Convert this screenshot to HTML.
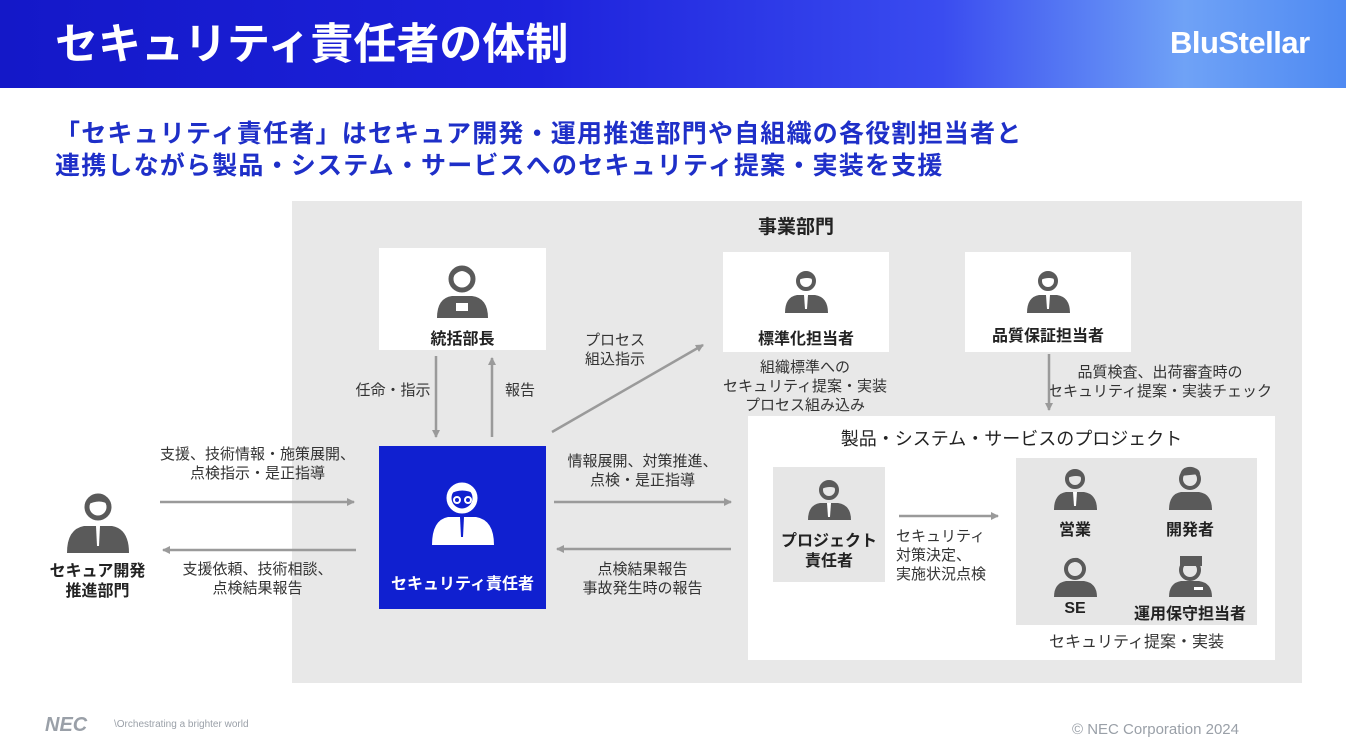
<!DOCTYPE html>
<html><head><meta charset="utf-8">
<style>
*{margin:0;padding:0;box-sizing:border-box}
body{width:1346px;height:755px;background:#fff;position:relative;overflow:hidden;font-family:"Liberation Sans","Noto Sans CJK JP",sans-serif;color:#333}
.a{position:absolute}
.hdr{left:0;top:0;width:1346px;height:88px;background:linear-gradient(90deg,#1418c8 0%,#1d22dc 40%,#3a4cf0 70%,#6fa2f6 88%,#4f8af2 100%)}
.t{font-size:15px;line-height:19px;text-align:center;color:#333;white-space:nowrap}
.b{font-weight:bold;font-size:16px;color:#222;white-space:nowrap}
.box{background:#fff}
</style></head><body>
<div class="a hdr"></div>
<div class="a" style="left:55px;top:18px;font-size:43px;font-weight:bold;color:#fff;letter-spacing:0px;line-height:54px;white-space:nowrap">セキュリティ責任者の体制</div>
<div class="a" style="left:1170px;top:25px;font-size:31px;font-weight:bold;color:#fff;letter-spacing:-0.5px">BluStellar</div>
<div class="a" style="left:55px;top:118px;font-size:25px;font-weight:bold;color:#1e2fc8;line-height:32px;letter-spacing:1.2px;white-space:nowrap">「セキュリティ責任者」はセキュア開発・運用推進部門や自組織の各役割担当者と<br>連携しながら製品・システム・サービスへのセキュリティ提案・実装を支援</div>

<div class="a" style="left:292px;top:201px;width:1010px;height:482px;background:#e8e8e8"></div>
<div class="a b" style="left:700px;top:212px;width:192px;text-align:center;font-size:19px">事業部門</div>

<div class="a box" style="left:379px;top:248px;width:167px;height:102px"></div>
<div class="a b" style="left:379px;top:325px;width:167px;text-align:center">統括部長</div>
<div class="a box" style="left:723px;top:252px;width:166px;height:100px"></div>
<div class="a b" style="left:723px;top:325px;width:166px;text-align:center">標準化担当者</div>
<div class="a box" style="left:965px;top:252px;width:166px;height:100px"></div>
<div class="a b" style="left:965px;top:322px;width:166px;text-align:center">品質保証担当者</div>

<div class="a" style="left:379px;top:446px;width:167px;height:163px;background:#1020d0"></div>
<div class="a b" style="left:379px;top:570px;width:167px;text-align:center;color:#fff">セキュリティ責任者</div>

<div class="a box" style="left:748px;top:416px;width:527px;height:244px"></div>
<div class="a" style="left:748px;top:425px;width:527px;text-align:center;font-size:18px;color:#222">製品・システム・サービスのプロジェクト</div>
<div class="a" style="left:773px;top:467px;width:112px;height:115px;background:#e6e6e6"></div>
<div class="a b" style="left:773px;top:532px;width:112px;text-align:center;line-height:20px">プロジェクト<br>責任者</div>
<div class="a" style="left:1016px;top:458px;width:241px;height:167px;background:#e6e6e6"></div>
<div class="a b" style="left:1040px;top:516px;width:70px;text-align:center">営業</div>
<div class="a b" style="left:1150px;top:516px;width:80px;text-align:center">開発者</div>
<div class="a b" style="left:1040px;top:600px;width:70px;text-align:center">SE</div>
<div class="a b" style="left:1125px;top:600px;width:130px;text-align:center">運用保守担当者</div>
<div class="a t" style="left:1016px;top:633px;width:241px;font-size:16px">セキュリティ提案・実装</div>
<div class="a t" style="left:896px;top:527px;text-align:left">セキュリティ<br>対策決定、<br>実施状況点検</div>

<div class="a b" style="left:40px;top:562px;width:115px;text-align:center;line-height:20px">セキュア開発<br>推進部門</div>

<div class="a t" style="left:343px;top:381px;width:100px">任命・指示</div>
<div class="a t" style="left:505px;top:381px">報告</div>
<div class="a t" style="left:570px;top:331px;width:90px">プロセス<br>組込指示</div>
<div class="a t" style="left:715px;top:358px;width:180px">組織標準への<br>セキュリティ提案・実装<br>プロセス組み込み</div>
<div class="a t" style="left:1040px;top:363px;width:240px">品質検査、出荷審査時の<br>セキュリティ提案・実装チェック</div>
<div class="a t" style="left:150px;top:445px;width:215px">支援、技術情報・施策展開、<br>点検指示・是正指導</div>
<div class="a t" style="left:160px;top:560px;width:195px">支援依頼、技術相談、<br>点検結果報告</div>
<div class="a t" style="left:550px;top:452px;width:185px">情報展開、対策推進、<br>点検・是正指導</div>
<div class="a t" style="left:550px;top:560px;width:185px">点検結果報告<br>事故発生時の報告</div>

<svg class="a" style="left:0;top:0" width="1346" height="755">
<defs>
<marker id="m" markerWidth="8" markerHeight="8" refX="7" refY="4" orient="auto" markerUnits="userSpaceOnUse"><path d="M0,0 L8,4 L0,8z" fill="#9a9a9a"/></marker>
</defs>
<g stroke="#9a9a9a" stroke-width="2.5" fill="none" marker-end="url(#m)">
<line x1="436" y1="356" x2="436" y2="437"/>
<line x1="492" y1="437" x2="492" y2="358"/>
<line x1="552" y1="432" x2="703" y2="345"/>
<line x1="1049" y1="354" x2="1049" y2="410"/>
<line x1="160" y1="502" x2="354" y2="502"/>
<line x1="356" y1="550" x2="163" y2="550"/>
<line x1="554" y1="502" x2="731" y2="502"/>
<line x1="731" y1="549" x2="557" y2="549"/>
<line x1="899" y1="516" x2="998" y2="516"/>
</g>
<g fill="#5a5a5a">
<circle cx="462" cy="279" r="11" fill="none" stroke="#5a5a5a" stroke-width="5"/>
<path d="M450,283 Q447,268 462,266 Q477,268 474,283 Q470,272 462,271 Q454,272 450,283z"/>
<path d="M437,318 Q437,298 452,296 L472,296 Q488,298 488,318z"/>
<rect x="456" y="303" width="12" height="8" fill="#fff"/>
<circle cx="806" cy="281" r="8" fill="none" stroke="#5a5a5a" stroke-width="4"/>
<path d="M798,280 Q800,270 810,272 Q814,276 814,280 Q808,276 798,280z"/>
<path d="M785,313 Q785,297 797,295 L815,295 Q828,297 828,313z"/>
<path d="M804,295 L808,295 L807,309 L805,309z" fill="#fff"/>
<circle cx="1048" cy="281" r="8" fill="none" stroke="#5a5a5a" stroke-width="4"/>
<path d="M1040,280 Q1042,270 1052,272 Q1056,276 1056,280 Q1050,276 1040,280z"/>
<path d="M1027,313 Q1027,297 1039,295 L1057,295 Q1070,297 1070,313z"/>
<path d="M1046,295 L1050,295 L1049,309 L1047,309z" fill="#fff"/>
<circle cx="98" cy="507" r="11" fill="none" stroke="#5a5a5a" stroke-width="5"/>
<path d="M87,505 Q90,492 102,494 Q109,499 109,505 Q100,498 87,505z"/>
<path d="M67,553 Q67,529 84,526 L112,526 Q129,529 129,553z"/>
<path d="M96,526 L100,526 L99,546 L97,546z" fill="#fff"/>
<circle cx="829" cy="490" r="8" fill="none" stroke="#5a5a5a" stroke-width="4"/>
<path d="M821,489 Q823,479 833,481 Q837,485 837,489 Q831,485 821,489z"/>
<path d="M808,520 Q808,505 820,503 L838,503 Q851,505 851,520z"/>
<path d="M827,503 L831,503 L830,517 L828,517z" fill="#fff"/>
<circle cx="1075" cy="479" r="8" fill="none" stroke="#5a5a5a" stroke-width="4"/>
<path d="M1067,478 Q1069,468 1079,470 Q1083,474 1083,478 Q1077,474 1067,478z"/>
<path d="M1054,510 Q1054,494 1066,492 L1084,492 Q1097,494 1097,510z"/>
<path d="M1073,492 L1077,492 L1076,506 L1074,506z" fill="#fff"/>
<circle cx="1190" cy="479" r="9" fill="none" stroke="#5a5a5a" stroke-width="4"/>
<path d="M1180,476 Q1181,466 1192,467 Q1200,469 1200,474z"/>
<path d="M1169,510 Q1169,494 1181,492 L1199,492 Q1212,494 1212,510z"/>
<circle cx="1075" cy="569" r="9" fill="none" stroke="#5a5a5a" stroke-width="4"/>
<path d="M1066,566 Q1068,557 1078,558 Q1084,562 1082,562 Q1074,560 1066,566z"/>
<path d="M1054,597 Q1054,583 1066,581 L1084,581 Q1097,583 1097,597z"/>
<circle cx="1190" cy="570" r="9" fill="none" stroke="#5a5a5a" stroke-width="4"/>
<path d="M1180,566 L1180,556 L1202,556 L1202,566z"/>
<path d="M1169,597 Q1169,583 1181,581 L1199,581 Q1212,583 1212,597z"/>
<rect x="1194" y="587" width="9" height="3" fill="#fff"/>
</g>
<g fill="#fff">
<circle cx="462" cy="498" r="13" fill="none" stroke="#fff" stroke-width="5"/>
<path d="M450,494 Q452,482 464,483 Q474,486 475,494 Q462,487 450,494z"/>
<circle cx="457" cy="500" r="3" fill="none" stroke="#fff" stroke-width="2"/>
<circle cx="468" cy="500" r="3" fill="none" stroke="#fff" stroke-width="2"/>
<path d="M432,545 Q432,520 448,517 L476,517 Q494,520 494,545z"/>
<path d="M460,517 L464,517 L463,537 L461,537z" fill="#1020d0"/>
</g>
</svg>

<div class="a" style="left:45px;top:714px;font-size:20px;font-weight:bold;color:#9aa0a8;font-style:italic">NEC</div>
<div class="a" style="left:114px;top:719px;font-size:10px;color:#9aa0a8">\Orchestrating a brighter world</div>
<div class="a" style="left:1072px;top:721px;font-size:15px;color:#9aa0a8">© NEC Corporation 2024</div>
</body></html>
